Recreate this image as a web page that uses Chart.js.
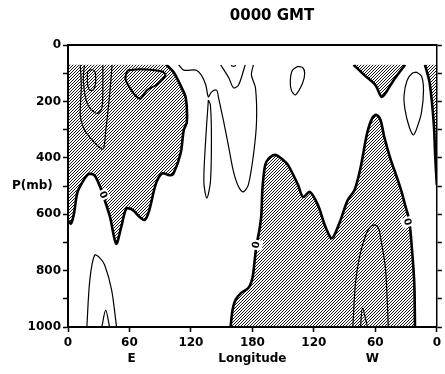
<!DOCTYPE html>
<html>
<head>
<meta charset="utf-8">
<script src="https://cdn.jsdelivr.net/npm/chart.js@4.4.1/dist/chart.umd.min.js"></script>
<style>
  body { margin: 0; background: #fff; }
  canvas { display: block; }
</style>
</head>
<body>
<canvas id="gmt_chart" width="445" height="374"></canvas>
<script>
// Longitude runs 0 -> 180E -> 180 -> 0W, stored as 0..360.
var lonTicks = [0, 60, 120, 180, 240, 300, 360];
var lonTickLabels = ['0', '60', '120', '180', '120', '60', '0'];

// Pressure ticks every 100 mb, labels every 200.
var pressureMin = 0;
var pressureMax = 1000;
var dataTop = 70;

// Thick zero contours, [longitude, pressure(mb)].
var zeroEast = [[0, 622], [3, 633], [6, 595], [9, 525], [14, 487], [20, 458], [26, 463],
  [31, 500], [34, 530], [41, 610], [47, 705], [52, 645], [57, 580], [63, 585], [70, 610],
  [75, 620], [79, 590], [86, 490], [92, 455], [99, 462], [103, 455], [110, 383], [113, 301],
  [116, 273], [115, 188], [111, 152], [103, 96], [96, 70]];

var zeroWest = [[158.7, 1000], [160.6, 940], [163.5, 904], [169, 879], [176, 862], [180, 826],
  [182, 770], [184, 709], [186.8, 656], [188.7, 603], [189.7, 514], [191.6, 443], [193.5, 415],
  [197.4, 397], [203, 390], [210, 408], [214.8, 426], [224.5, 496], [229.4, 539], [236, 521],
  [243.9, 567], [250.6, 638], [256.4, 684], [259, 681], [266, 621], [273, 550], [279.7, 514],
  [285.5, 436], [292, 312], [297, 259], [301, 248], [305, 266], [308.7, 326], [314.5, 401],
  [321.3, 472], [326, 525], [329, 567], [333, 621], [335.8, 727], [338, 844], [338.7, 1000]];

var zeroTopWest = [[278.7, 70], [289, 106], [300, 142], [306, 184], [310, 170], [318, 124], [329, 70]];

var zeroEdge = [[348.4, 70], [353, 135], [357, 277], [358.5, 400], [360, 496]];

var islandEast = [[58, 90], [70, 86], [92, 94], [95, 108], [87, 140], [77, 160], [71, 190],
  [66, 180], [60, 150], [56, 118], [58, 90]];

// Thin contours.
var eastOuter = [[12, 70], [13, 150], [12, 250], [16, 300], [23, 335], [33, 370], [35, 365],
  [37, 300], [40, 200], [42, 120], [43, 70]];
var eastInner = [[16, 70], [15, 130], [19, 210], [28, 243], [33, 225], [34, 150], [34, 70]];
var eastCore = [[19, 95], [22, 88], [26, 92], [27, 130], [25, 158], [21, 160], [19, 135], [19, 95]];
var midLine = [[108, 70], [113, 89], [125, 89], [130, 106], [134.5, 142], [137, 184], [140, 167],
  [145, 160], [147, 188], [152, 273], [157, 365], [161.6, 450], [166.5, 503], [171, 521],
  [176, 496], [181, 390], [184, 273], [183, 152], [179, 106], [181, 70]];
var midSpike = [[137, 195], [134.5, 330], [132.6, 486], [135.5, 543], [139, 486], [140, 330],
  [139, 213], [137, 195]];
var midV = [[149, 70], [157, 117], [161.6, 152], [166.5, 142], [173, 70]];
var midDash = [[159, 72], [161.5, 76], [164, 72]];
var ovalMid = [[224, 76], [229, 80], [231, 100], [229, 135], [222, 177], [218, 160], [217, 125],
  [219, 90], [224, 76]];
var ovalWest = [[340, 96], [345, 110], [347, 160], [345, 240], [340, 300], [337, 319], [333, 290],
  [329, 230], [328, 180], [331, 125], [336, 100], [340, 96]];
var archWest = [[278, 1000], [280.6, 844], [284.5, 752], [290, 681], [294, 649], [299, 638],
  [303, 649], [305, 681], [309.7, 787], [311.6, 904], [312.6, 1000]];
var spikeWest = [[285.5, 1000], [287.4, 933], [292.3, 1000]];
var archEast = [[18.4, 1000], [21.3, 833], [26, 745], [31, 755], [35.8, 780], [42.6, 869], [47.4, 1000]];
var spikeEast = [[33, 1000], [36.8, 940], [40.6, 1000]];

// "0" labels on the zero line: [longitude, pressure, angle in degrees].
var zeroLabels = [[34, 532, 65], [184, 709, -81], [331, 628, 72]];

var font_family = "'DejaVu Sans', sans-serif";
var tick_font = {family: font_family, weight: 'bold', size: 12};

// Stipple used for the shaded (negative) areas: fine "/" hatching.
function make_stipple() {
    var pc = document.createElement('canvas');
    pc.width = 3;
    pc.height = 3;
    var p = pc.getContext('2d');
    p.fillStyle = '#ffffff';
    p.fillRect(0, 0, 3, 3);
    p.fillStyle = '#1a1a1a';
    p.fillRect(0, 2, 1, 1);
    p.fillRect(1, 1, 1, 1);
    p.fillRect(2, 0, 1, 1);
    return document.getElementById('gmt_chart').getContext('2d').createPattern(pc, 'repeat');
}

function pts(arr) {
    return arr.map(function(d) { return {x: d[0], y: d[1]}; });
}

var stipple = make_stipple();

// Shaded areas are drawn first (higher order), contour lines on top.
function shade(arr) {
    return {
        data: pts(arr), showLine: true, fill: 'shape', tension: 0.3,
        backgroundColor: stipple, borderColor: 'rgba(0,0,0,0)', borderWidth: 0,
        pointRadius: 0, order: 2
    };
}

function contour(arr, width) {
    return {
        data: pts(arr), showLine: true, fill: false, tension: 0.3,
        borderColor: '#000', borderWidth: width, pointRadius: 0, order: 1
    };
}

var datasets = [
    shade([[-5, 60], [-5, 622]].concat(zeroEast).concat([[96, 60], [-5, 60]])),
    shade(zeroWest.concat([[338.7, 1020], [158.7, 1020], [158.7, 1000]])),
    shade(zeroTopWest.concat([[329, 60], [278.7, 60], [278.7, 70]])),
    shade(zeroEdge.concat([[370, 496], [370, 60], [348.4, 60], [348.4, 70]])),
    contour(zeroEast, 2.6),
    contour(zeroWest, 2.6),
    contour(zeroTopWest, 2.6),
    contour(zeroEdge, 2.6),
    contour(islandEast, 2),
    contour(eastOuter, 1.2),
    contour(eastInner, 1.2),
    contour(eastCore, 1.2),
    contour(midLine, 1.2),
    contour(midSpike, 1.2),
    contour(midV, 1.2),
    contour(midDash, 1.2),
    contour(ovalMid, 1.2),
    contour(ovalWest, 1.2),
    contour(archWest, 1.2),
    contour(spikeWest, 1.2),
    contour(archEast, 1.2),
    contour(spikeEast, 1.2)
];

// Blank strip above the top data level, zero labels and free texts.
var decorations = {
    id: 'decorations',
    afterDatasetsDraw: function(chart) {
        var ctx = chart.ctx;
        var a = chart.chartArea;
        var xs = chart.scales.x;
        var ys = chart.scales.y;
        ctx.save();
        ctx.fillStyle = '#fff';
        ctx.fillRect(a.left, a.top, a.right - a.left, ys.getPixelForValue(dataTop) - a.top);
        ctx.font = 'bold 10px ' + font_family;
        ctx.textAlign = 'center';
        ctx.textBaseline = 'middle';
        zeroLabels.forEach(function(l) {
            ctx.save();
            ctx.translate(xs.getPixelForValue(l[0]), ys.getPixelForValue(l[1]));
            ctx.rotate(l[2] * Math.PI / 180);
            ctx.fillStyle = '#fff';
            ctx.fillRect(-5, -6, 10, 12);
            ctx.fillStyle = '#000';
            ctx.fillText('0', 0, 0);
            ctx.restore();
        });
        ctx.restore();
    },
    afterDraw: function(chart) {
        var ctx = chart.ctx;
        var xs = chart.scales.x;
        var ys = chart.scales.y;
        ctx.save();
        ctx.fillStyle = '#000';
        ctx.textBaseline = 'middle';
        ctx.textAlign = 'center';
        ctx.font = 'bold 15px ' + font_family;
        ctx.fillText('0000 GMT', 272, 16);
        ctx.font = 'bold 12px ' + font_family;
        ctx.fillText('E', xs.getPixelForValue(62), 359);
        ctx.fillText('W', xs.getPixelForValue(297), 359);
        ctx.textAlign = 'left';
        ctx.fillText('P(mb)', 12, ys.getPixelForValue(500));
        ctx.restore();
    }
};

var axis_grid = {display: true, drawOnChartArea: false, drawTicks: true, tickLength: 5,
    tickWidth: 1.5, tickColor: '#000', z: 1};

new Chart(document.getElementById('gmt_chart'), {
    type: 'scatter',
    data: {datasets: datasets},
    plugins: [decorations],
    options: {
        responsive: false,
        animation: false,
        layout: {padding: {top: 45, left: 0, right: 0, bottom: 0}},
        plugins: {
            legend: {display: false},
            tooltip: {enabled: false},
            title: {display: false}
        },
        scales: {
            x: {
                type: 'linear', position: 'bottom', min: lonTicks[0], max: lonTicks[lonTicks.length - 1],
                afterBuildTicks: function(s) { s.ticks = lonTicks.map(function(v) { return {value: v}; }); },
                ticks: {
                    autoSkip: false, maxRotation: 0, padding: 4, color: '#000', font: tick_font,
                    callback: function(v) { return lonTickLabels[lonTicks.indexOf(v)]; }
                },
                grid: axis_grid,
                border: {display: true, color: '#000', width: 2, z: 1},
                title: {display: true, text: 'Longitude', color: '#000', font: tick_font,
                    padding: {top: 0, bottom: 8}},
                afterFit: function(s) { s.height = 47; }
            },
            y: {
                type: 'linear', position: 'left', reverse: true, min: pressureMin, max: pressureMax,
                ticks: {
                    stepSize: 100, autoSkip: false, padding: 2, color: '#000', font: tick_font,
                    callback: function(v) { return v % 200 === 0 ? v : ''; }
                },
                grid: axis_grid,
                border: {display: true, color: '#000', width: 2, z: 1},
                afterFit: function(s) { s.width = 68; }
            },
            x2: {
                type: 'linear', position: 'top', min: lonTicks[0], max: lonTicks[lonTicks.length - 1],
                ticks: {display: false},
                grid: {display: false},
                border: {display: true, color: '#000', width: 2, z: 1},
                afterFit: function(s) { s.height = 0; }
            },
            y2: {
                type: 'linear', position: 'right', reverse: true, min: pressureMin, max: pressureMax,
                ticks: {stepSize: 100, autoSkip: false, padding: 0, callback: function() { return ''; }},
                grid: axis_grid,
                border: {display: true, color: '#000', width: 1.5, z: 1},
                afterFit: function(s) { s.width = 5; }
            }
        }
    }
});
</script>
</body>
</html>
